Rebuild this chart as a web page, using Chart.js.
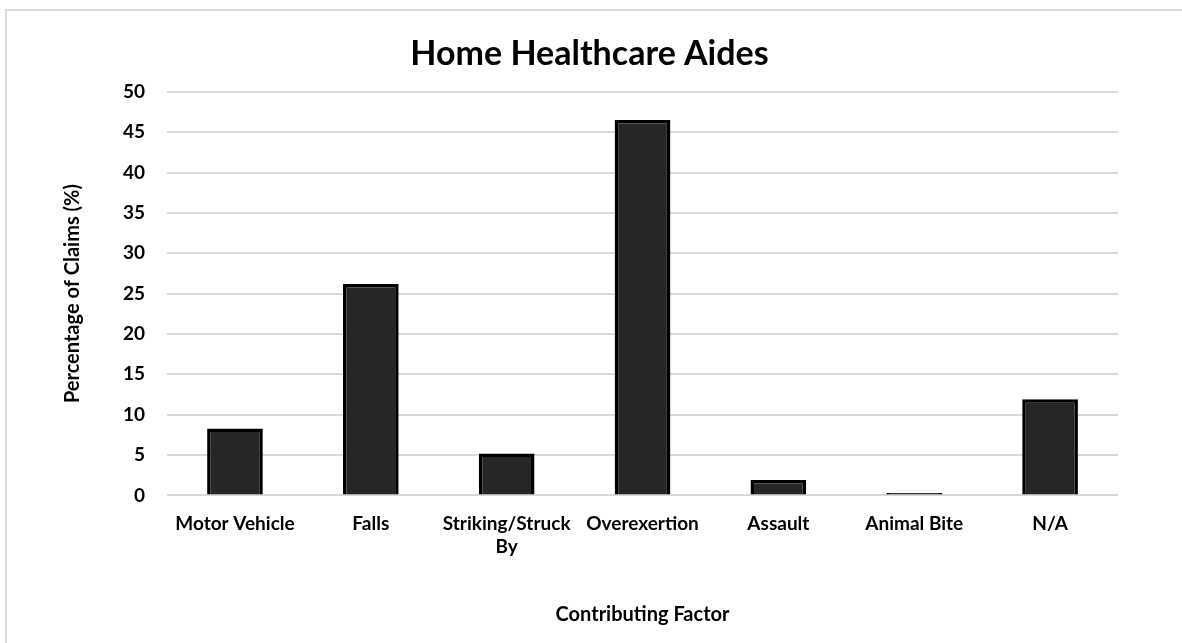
<!DOCTYPE html>
<html lang="en">
<head>
<meta charset="utf-8">
<script src="https://cdn.jsdelivr.net/npm/chart.js@4/dist/chart.umd.min.js"></script>
<style>
    html, body {
        margin: 0;
        padding: 0;
        background: #fff;
        overflow: hidden;
    }
    #frame {
        position: absolute;
        left: 5px;
        top: 9px;
        width: 1200px;
        height: 660px;
        border: 2px solid #d9d9d9;
    }
    #chart {
        position: absolute;
        left: 0;
        top: 0;
    }
</style>
</head>
<body>
<div id="frame"></div>
<canvas id="chart" width="1182" height="643"></canvas>

<script>
// data
var categories = ["Motor Vehicle", "Falls", ["Striking/Struck", "By"], "Overexertion", "Assault", "Animal Bite", "N/A"];
var claimPct = [8.3, 26.2, 5.2, 46.5, 1.9, 0.3, 11.9];
var yTicks = [0, 5, 10, 15, 20, 25, 30, 35, 40, 45, 50];

var fontFamily = "Lato, 'Open Sans', sans-serif";
Chart.defaults.font.family = fontFamily;
Chart.defaults.color = "#000";

var ctx = document.getElementById("chart").getContext("2d");
var myChart = new Chart(ctx, {
    type: "bar",
    data: {
        labels: categories,
        datasets: [{
            label: "Percentage of Claims",
            data: claimPct,
            backgroundColor: "#262626",
            borderColor: "#000",
            borderWidth: 3.5,
            borderSkipped: "bottom",
            barPercentage: 0.41,
            categoryPercentage: 1
        }]
    },
    options: {
        responsive: false,
        animation: false,
        devicePixelRatio: 1,
        layout: {
            padding: { left: 61, right: 64, top: 14, bottom: 16 }
        },
        plugins: {
            legend: { display: false },
            tooltip: { enabled: false },
            title: {
                display: true,
                text: "Home Healthcare Aides",
                font: { size: 34, weight: "bold" },
                padding: { top: 20, bottom: 17 }
            }
        },
        scales: {
            x: {
                grid: { display: false },
                border: { display: false },
                ticks: {
                    font: { size: 19, weight: "bold" },
                    lineHeight: 1.3,
                    maxRotation: 0,
                    autoSkip: false,
                    padding: 9
                },
                title: {
                    display: true,
                    text: "Contributing Factor",
                    font: { size: 20, weight: "bold" },
                    padding: { top: 36, bottom: 0 }
                }
            },
            y: {
                min: 0,
                max: 50,
                afterBuildTicks: function (axis) {
                    axis.ticks = yTicks.map(function (v) { return { value: v }; });
                },
                grid: {
                    color: "#d9d9d9",
                    lineWidth: 2,
                    drawTicks: false
                },
                border: { display: false },
                ticks: {
                    font: { size: 19, weight: "bold" },
                    padding: 22
                },
                title: {
                    display: true,
                    text: "Percentage of Claims (%)",
                    font: { size: 20, weight: "bold" },
                    padding: { top: 0, bottom: 16 }
                }
            }
        }
    }
});
</script>
</body>
</html>
